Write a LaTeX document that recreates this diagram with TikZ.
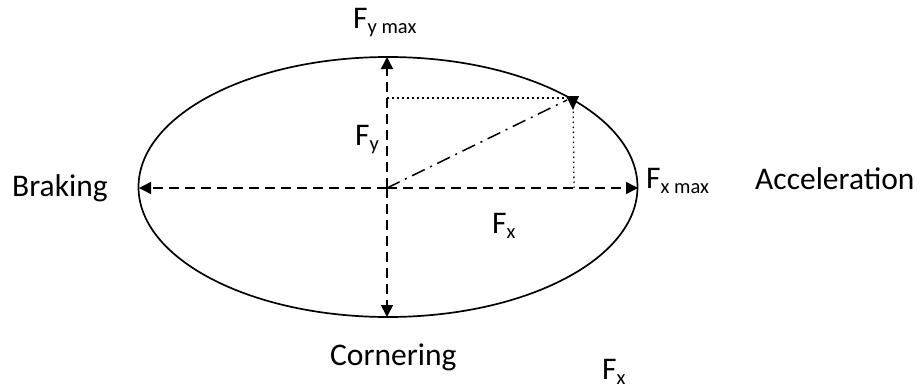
\documentclass[tikz,border=0pt]{standalone}
\usepackage{fontspec}
\setmainfont{Carlito}
\usetikzlibrary{arrows.meta}
\newcommand{\lowsub}[1]{\raisebox{-5pt}{\fontsize{20.5}{20.5}\selectfont #1}}
\tikzset{
  lbl/.style={anchor=base west, inner sep=0pt, font=\fontsize{31.5}{31.5}\selectfont},
  axis/.style={line width=1.6pt, dash pattern=on 10pt off 6pt, -{Triangle[length=12pt,width=12pt]}},
  dotl/.style={line width=1.3pt, dash pattern=on 1.5pt off 3.5pt},
  dashdot/.style={line width=1.5pt, dash pattern=on 14pt off 6pt on 2pt off 6pt},
}
\begin{document}
\begin{tikzpicture}[x=1pt,y=-1pt]
\useasboundingbox (0,0) rectangle (921,388);
% ellipse
\draw[line width=1.7pt] (388,187) ellipse [x radius=249.5, y radius=130];
\coordinate (O) at (387,188);
\coordinate (T) at (387,57);
\coordinate (B) at (387,317);
\coordinate (L) at (139,188);
\coordinate (R) at (638,188);
\coordinate (P) at (573,98);
\coordinate (Q) at (574,188);
\coordinate (K) at (387,98);
\draw[axis] (O) -- (T);
\draw[axis] (O) -- (B);
\draw[axis] (O) -- (L);
\draw[axis] (O) -- (R);
\draw[dotl] (K) -- (P);
\draw[dotl] (Q) -- (P);
\draw[dashdot] (O) -- (567,100);
\fill (566,96) -- (579,96) -- (573,110) -- cycle;
% labels
\node[lbl] (fymax) at (353,28) {F\lowsub{y max}};
\node[lbl] (fy) at (355,145) {F\lowsub{y}};
\node[lbl] (brk) at (12,196) {Braking};
\node[lbl] (fxmax) at (646,188) {F\lowsub{x max}};
\node[lbl] (acc) at (755,189) {Acceleration};
\node[lbl] (fx) at (492,233) {F\lowsub{x}};
\node[lbl] (cor) at (330,365) {Cornering};
\node[lbl] (fx2) at (602,379) {F\lowsub{x}};
\end{tikzpicture}
\end{document}
